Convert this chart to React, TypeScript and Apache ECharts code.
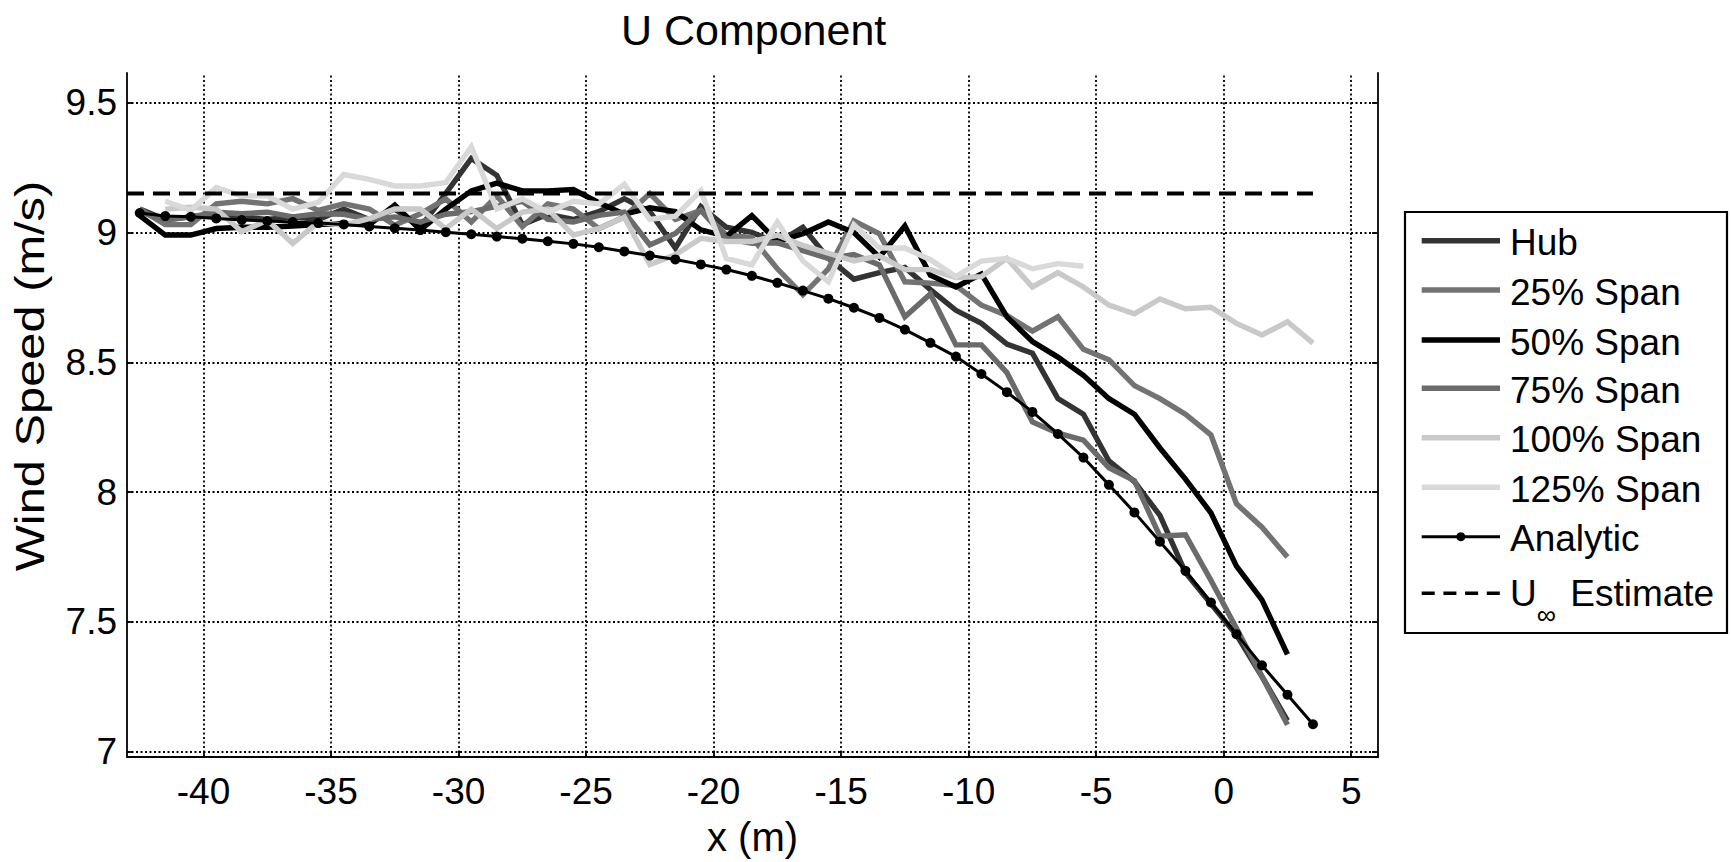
import React, { useEffect, useRef } from "react";
import * as echarts from "echarts";

// x positions (m) of the sampled stations
const X = [
  -42.5, -41.5, -40.5, -39.5, -38.5, -37.5, -36.5, -35.5, -34.5, -33.5,
  -32.5, -31.5, -30.5, -29.5, -28.5, -27.5, -26.5, -25.5, -24.5, -23.5,
  -22.5, -21.5, -20.5, -19.5, -18.5, -17.5, -16.5, -15.5, -14.5, -13.5,
  -12.5, -11.5, -10.5, -9.5, -8.5, -7.5, -6.5, -5.5, -4.5, -3.5,
  -2.5, -1.5, -0.5, 0.5, 1.5, 2.5, 3.5,
];

const HUB = [
  9.09, 9.05, 9.06, 9.07, 9.06, 9.05, 9.06, 9.05, 9.09, 9.05,
  9.09, 9.02, 9.15, 9.285, 9.22, 9.03, 9.07, 9.05, 9.08, 9.13,
  9.08, 8.94, 9.10, 9.02, 9.0, 8.96, 9.02, 8.90, 8.82, 8.845,
  8.865, 8.78, 8.70, 8.65, 8.57, 8.535, 8.36, 8.30, 8.12, 8.04,
  7.91, 7.69, 7.57, 7.45, 7.29, 7.12, null,
];

const SPAN25 = [
  9.09, 9.03, 9.03, 9.11, 9.12, 9.11, 9.13, 9.085, 9.11, 9.09,
  9.028, 9.072, 9.129, 9.04, 9.141, 9.022, 9.11, 9.09, 9.015, 9.06,
  9.15, 9.05, 9.085, 8.99, 8.98, 8.86, 8.76, 8.86, 9.045, 8.995,
  8.81, 8.805, 8.795, 8.72, 8.68, 8.62, 8.675, 8.55, 8.51, 8.41,
  8.36, 8.30, 8.22, 7.955, 7.865, 7.75, null,
];

const SPAN50 = [
  9.065, 8.99, 8.99, 9.015, 9.02, 9.02, 9.025, 9.03, 9.035, 9.03,
  9.105, 9.01, 9.09, 9.16, 9.19, 9.16, 9.16, 9.165, 9.115, 9.07,
  9.095, 9.08, 9.01, 8.985, 9.065, 8.965, 8.995, 9.04, 9.0, 8.905,
  9.025, 8.835, 8.79, 8.84, 8.675, 8.58, 8.52, 8.45, 8.36, 8.30,
  8.17, 8.05, 7.92, 7.715, 7.585, 7.375, null,
];

const SPAN75 = [
  9.08, 9.047, 9.06, 9.078, 9.072, 9.078, 9.06, 9.072, 9.07, 9.05,
  9.06, 9.04, 9.07, 9.08, 9.10, 9.12, 9.05, 9.04, 9.066, 9.078,
  8.952, 8.996, 9.085, 8.977, 8.958, 8.96, 8.93, 8.90, 8.915, 8.875,
  8.675, 8.763, 8.567, 8.567, 8.46, 8.27, 8.227, 8.20, 8.094, 8.044,
  7.83, 7.836, 7.66, 7.476, 7.29, 7.104, null,
];

const SPAN100 = [
  null, 9.09, 9.097, 9.09, 9.003, 9.047, 8.958, 9.04, 9.028, 9.053,
  9.09, 9.09, 9.015, 9.09, 9.015, 9.078, 9.09, 8.99, 9.015, 9.059,
  8.876, 8.914, 8.977, 8.965, 8.965, 8.99, 8.95, 8.92, 8.89, 8.91,
  8.857, 8.857, 8.826, 8.83, 8.90, 8.79, 8.845, 8.79, 8.72, 8.687,
  8.744, 8.706, 8.712, 8.65, 8.605, 8.656, 8.574,
];

const SPAN125 = [
  null, 9.12, 9.085, 9.173, 9.141, 9.141, 9.09, 9.116, 9.223, 9.204,
  9.179, 9.179, 9.192, 9.33, 9.09, 9.129, 9.078, 9.12, 9.11, 9.185,
  9.05, 9.063, 9.16, 8.90, 8.875, 9.04, 8.89, 8.81, 9.03, 8.94,
  8.94, 8.895, 8.83, 8.89, 8.90, 8.86, 8.88, 8.87, null, null,
  null, null, null, null, null, null, null,
];

const ANALYTIC = [
  9.075, 9.063, 9.06, 9.054, 9.048, 9.044, 9.04, 9.036, 9.031, 9.023,
  9.016, 9.009, 9.001, 8.993, 8.984, 8.976, 8.966, 8.956, 8.943, 8.927,
  8.911, 8.896, 8.877, 8.857, 8.833, 8.806, 8.776, 8.745, 8.71, 8.671,
  8.626, 8.575, 8.522, 8.455, 8.385, 8.309, 8.224, 8.133, 8.028, 7.922,
  7.809, 7.697, 7.575, 7.453, 7.333, 7.22, 7.106,
];

const U_INF = 9.15;
const U_INF_X = [-43, 3.5];

const X_TICKS = [-40, -35, -30, -25, -20, -15, -10, -5, 0, 5];
const Y_TICKS = [7, 7.5, 8, 8.5, 9, 9.5];

const SERIES_NAMES = [
  "Hub",
  "25% Span",
  "50% Span",
  "75% Span",
  "100% Span",
  "125% Span",
  "Analytic",
];
const SERIES_COLORS = ["#333333", "#737373", "#000000", "#6b6b6b", "#c9c9c9", "#d9d9d9", "#000000"];

const FONT = "'Liberation Sans', Arial, Helvetica, sans-serif";
const LINE_W = 5.4;

function pairs(ys: (number | null)[]) {
  const out: [number, number][] = [];
  ys.forEach((y, i) => {
    if (y !== null) out.push([X[i], y]);
  });
  return out;
}

export default function App() {
  const ref = useRef<HTMLDivElement>(null);

  useEffect(() => {
    const chart = echarts.init(ref.current!, null, { renderer: "svg" });

    const measured = [HUB, SPAN25, SPAN50, SPAN75, SPAN100, SPAN125];
    const dataSeries: any[] = measured.map((ys, i) => ({
      type: "line",
      name: SERIES_NAMES[i],
      data: pairs(ys),
      symbol: "none",
      showSymbol: false,
      silent: true,
      z: 3,
      lineStyle: { color: SERIES_COLORS[i], width: LINE_W, cap: "butt", join: "miter" },
      itemStyle: { color: SERIES_COLORS[i] },
    }));

    const axisCommon = {
      type: "value" as const,
      axisLine: { show: true, onZero: false, lineStyle: { color: "#000", width: 1.8 } },
      splitLine: { show: false },
    };

    const legendRows = [240.7, 290, 340, 388.3, 437.7, 487.3, 536.7, 593.3];
    const lx0 = 1421.7;
    const lx1 = 1500;
    const legendGraphics: any[] = [
      {
        type: "rect",
        shape: { x: 1405, y: 212, width: 322, height: 421 },
        style: { fill: "#fff", stroke: "#000", lineWidth: 2.2 },
        z: 100,
      },
    ];
    SERIES_NAMES.forEach((name, i) => {
      const y = legendRows[i];
      legendGraphics.push({
        type: "line",
        shape: { x1: lx0, y1: y, x2: lx1, y2: y },
        style: { stroke: SERIES_COLORS[i], lineWidth: i === 6 ? 3 : LINE_W },
        z: 101,
      });
      if (i === 6) {
        legendGraphics.push({
          type: "circle",
          shape: { cx: (lx0 + lx1) / 2, cy: y, r: 4.5 },
          style: { fill: "#000" },
          z: 102,
        });
      }
      legendGraphics.push({
        type: "text",
        x: 1510,
        y: y + 2,
        style: {
          text: name,
          font: `37px ${FONT}`,
          fill: "#000",
          textAlign: "left",
          textVerticalAlign: "middle",
        },
        z: 101,
      });
    });
    const uy = legendRows[7];
    legendGraphics.push({
      type: "line",
      shape: { x1: lx0, y1: uy, x2: lx1, y2: uy },
      style: { stroke: "#000", lineWidth: 3.6, lineDash: [13, 8.7] },
      z: 101,
    });
    legendGraphics.push({
      type: "text",
      x: 1510,
      y: uy,
      style: {
        text: "{a|U}{b|∞}{a| Estimate}",
        textAlign: "left",
        textVerticalAlign: "middle",
        rich: {
          a: { fontSize: 37, fontFamily: FONT, lineHeight: 40, fill: "#000", color: "#000" },
          b: {
            fontSize: 27,
            fontFamily: FONT,
            lineHeight: 26,
            padding: [44, 4, 0, 0],
            fill: "#000",
            color: "#000",
          },
        },
      },
      z: 101,
    });

    const option: any = {
      animation: false,
      backgroundColor: "#fff",
      title: {
        text: "U Component",
        left: 616,
        top: 3,
        textStyle: { fontSize: 43, fontWeight: "normal", fontFamily: FONT, color: "#000" },
      },
      grid: { left: 127, top: 73, width: 1251, height: 696, containLabel: false },
      xAxis: {
        ...axisCommon,
        min: -43,
        max: 6.05,
        name: "x (m)",
        nameLocation: "middle",
        nameGap: 60,
        nameTextStyle: { fontSize: 40, fontFamily: FONT, color: "#000" },
        axisTick: {
          show: true,
          inside: true,
          length: 6,
          customValues: X_TICKS,
          lineStyle: { color: "#000", width: 1.8 },
        },
        axisLabel: {
          show: true,
          customValues: X_TICKS,
          fontSize: 37,
          fontFamily: FONT,
          color: "#000",
          margin: 16,
        },
      },
      yAxis: [
        {
          ...axisCommon,
          min: 6.98,
          max: 9.614,
          position: "left",
          axisTick: {
            show: true,
            inside: true,
            length: 6,
            customValues: Y_TICKS,
            lineStyle: { color: "#000", width: 1.8 },
          },
          axisLabel: {
            show: true,
            customValues: Y_TICKS,
            fontSize: 37,
            fontFamily: FONT,
            color: "#000",
            margin: 10,
          },
        },
        {
          ...axisCommon,
          min: 6.98,
          max: 9.614,
          position: "right",
          axisTick: {
            show: true,
            inside: true,
            length: 6,
            customValues: Y_TICKS,
            lineStyle: { color: "#000", width: 1.8 },
          },
          axisLabel: { show: false },
        },
      ],
      graphic: [
        {
          type: "text",
          x: 30,
          y: 376,
          rotation: Math.PI / 2,
          scaleX: 1.22,
          style: {
            text: "Wind Speed (m/s)",
            font: `40px ${FONT}`,
            fill: "#000",
            textAlign: "center",
            textVerticalAlign: "middle",
          },
        },
        ...legendGraphics,
      ],
      series: [
        {
          type: "line",
          name: "grid",
          data: [],
          silent: true,
          z: 1,
          markLine: {
            silent: true,
            z: 1,
            symbol: ["none", "none"],
            label: { show: false },
            emphasis: { disabled: true },
            lineStyle: { color: "#000", type: [2, 2.5], width: 1.8, opacity: 1 },
            data: [
              ...X_TICKS.map((v) => ({ xAxis: v })),
              ...Y_TICKS.map((v) => ({ yAxis: v })),
            ],
          },
        },
        ...dataSeries,
        {
          type: "line",
          name: "Analytic",
          data: pairs(ANALYTIC),
          symbol: "circle",
          symbolSize: 10,
          showSymbol: true,
          silent: true,
          z: 4,
          lineStyle: { color: "#000", width: 3 },
          itemStyle: { color: "#000" },
        },
        {
          type: "line",
          name: "U∞ Estimate",
          data: U_INF_X.map((x) => [x, U_INF]),
          symbol: "none",
          showSymbol: false,
          silent: true,
          z: 5,
          lineStyle: { color: "#000", width: 3.8, type: [17, 9] },
        },
      ],
    };

    chart.setOption(option);
    return () => chart.dispose();
  }, []);

  return (
    <div
      ref={ref}
      style={{ position: "absolute", left: 0, top: 0, width: 1731, height: 862, background: "#fff" }}
    />
  );
}
